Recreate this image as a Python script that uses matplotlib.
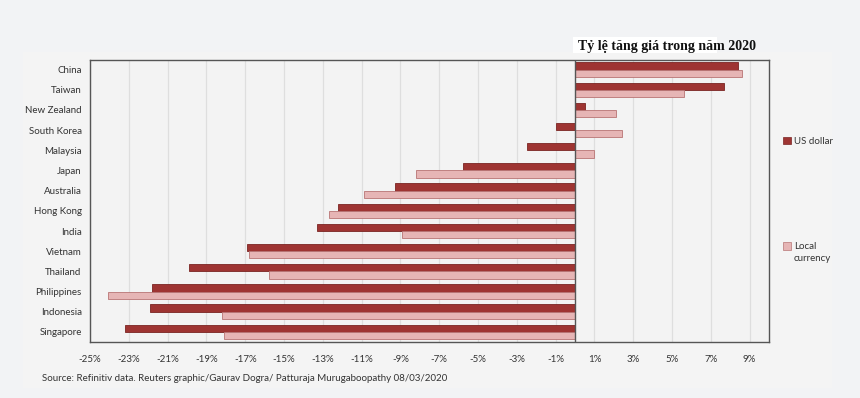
import numpy as np
import matplotlib.pyplot as plt
from matplotlib.patches import Rectangle

# Data (percent change in 2020)
countries = ['China', 'Taiwan', 'New Zealand', 'South Korea', 'Malaysia', 'Japan',
             'Australia', 'Hong Kong', 'India', 'Vietnam', 'Thailand', 'Philippines',
             'Indonesia', 'Singapore']
usd = [8.4, 7.7, 0.5, -1.0, -2.5, -5.8, -9.3, -12.2, -13.3, -16.9, -19.9, -21.8, -21.9, -23.2]
local = [8.6, 5.6, 2.1, 2.4, 1.0, -8.2, -10.9, -12.7, -8.9, -16.8, -15.8, -24.1, -18.2, -18.1]
xticks = list(range(-25, 10, 2))

title = 'Tỷ lệ tăng giá trong năm 2020'
source = 'Source: Refinitiv data. Reuters graphic/Gaurav Dogra/ Patturaja Murugaboopathy 08/03/2020'

plt.rcParams['font.family'] = ['Lato', 'DejaVu Sans']

fig = plt.figure(figsize=(8.6, 3.98), dpi=100, facecolor='#f2f3f5')
# subtle inner panel and the white patch behind the title
fig.patches.append(Rectangle((0.027, 0.025), 0.94, 0.845, transform=fig.transFigure,
                             facecolor='#f4f4f4', edgecolor='none', zorder=-2))
fig.patches.append(Rectangle((0.666, 0.867), 0.168, 0.04, transform=fig.transFigure,
                             facecolor='white', edgecolor='none', zorder=-1))

ax = fig.add_axes([0.1047, 0.1407, 0.7895, 0.7098])
ax.set_facecolor('#f3f3f3')

y = np.arange(len(countries))
h = 0.36
ax.barh(y - h / 2, usd, height=h, color='#9e3432', edgecolor='#7a2422', linewidth=0.6,
        zorder=3, label='US dollar')
ax.barh(y + h / 2, local, height=h, color='#e6b5b5', edgecolor='#b87474', linewidth=0.6,
        zorder=3, label='Local currency')

ax.set_xlim(-25, 10)
ax.set_ylim(len(countries) - 0.5, -0.5)
ax.set_yticks(y)
ax.set_yticklabels(countries, fontsize=7, color='#333333')
ax.set_xticks(xticks)
ax.set_xticklabels([f'{t}%' for t in xticks], fontsize=7, color='#333333')
ax.tick_params(length=0, pad=6)
ax.tick_params(axis='x', pad=9)
ax.grid(axis='x', color='#dedede', linewidth=0.9, zorder=0)
ax.axvline(0, color='#555555', linewidth=1.0, zorder=4)
for s in ax.spines.values():
    s.set_color('#555555')
    s.set_linewidth(1.0)

fig.text(0.775, 0.882, title, family=['Liberation Serif'], fontweight='bold',
         fontsize=10, ha='center', va='center', color='#111111')

# Legend entries placed beside the plot
fig.patches.append(Rectangle((0.911, 0.637), 0.0085, 0.02, transform=fig.transFigure,
                             facecolor='#9e3432', edgecolor='#7a2422', linewidth=0.5))
fig.text(0.923, 0.645, 'US dollar', fontsize=7, va='center', color='#333333')
fig.patches.append(Rectangle((0.911, 0.372), 0.0085, 0.02, transform=fig.transFigure,
                             facecolor='#e6b5b5', edgecolor='#b87474', linewidth=0.5))
fig.text(0.923, 0.38, 'Local', fontsize=7, va='center', color='#333333')
fig.text(0.923, 0.35, 'currency', fontsize=7, va='center', color='#333333')

fig.text(0.049, 0.048, source, fontsize=7, va='center', color='#333333')

fig.savefig('out.png', dpi=100, facecolor=fig.get_facecolor())
